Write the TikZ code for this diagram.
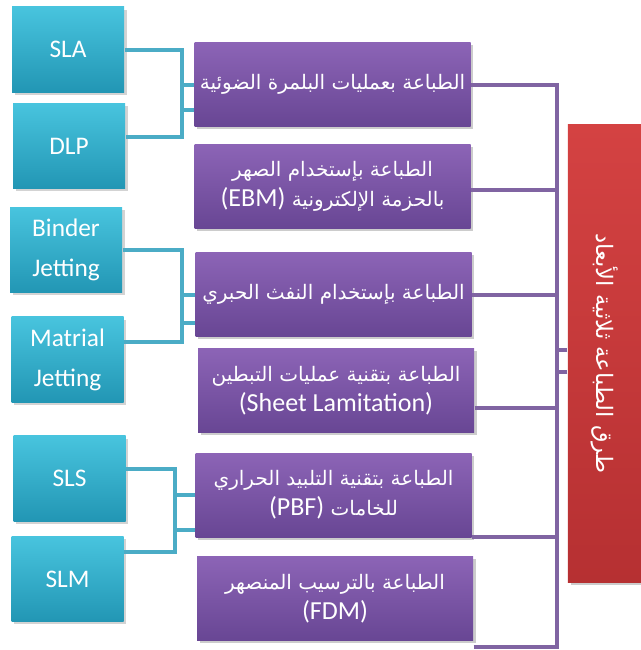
\documentclass[tikz,border=0pt]{standalone}
\usepackage{fontspec}
\setmainfont{Carlito}
\newfontfamily\arabicfont[Script=Arabic]{DejaVu Sans}
\TeXXeTstate=1
\usetikzlibrary{shadows}

\newcommand{\artxt}[1]{{\arabicfont\beginR #1\endR}}
\newcommand{\lattxt}[1]{{\normalfont\fontsize{19.5}{22.5}\selectfont #1}}

\definecolor{tealtop}{RGB}{72,196,222}
\definecolor{tealbot}{RGB}{34,150,180}
\definecolor{purptop}{RGB}{140,100,182}
\definecolor{purpbot}{RGB}{104,70,148}
\definecolor{redtop}{RGB}{212,66,66}
\definecolor{redbot}{RGB}{182,48,50}
\definecolor{tealwire}{RGB}{75,172,198}
\definecolor{purpwire}{RGB}{128,100,162}

\tikzset{every picture/.style={line width=0.75pt},
	techbox/.style={rectangle, draw=none, top color=tealtop, bottom color=tealbot, text=white,
		minimum width=84pt, minimum height=64pt, align=center,
		font=\fontsize{19}{30}\selectfont,
		drop shadow={opacity=0.35, shadow xshift=2pt, shadow yshift=-2pt}},
	methodbox/.style={rectangle, draw=none, top color=purptop, bottom color=purpbot, text=white,
		minimum width=207pt, minimum height=63pt, align=center,
		font=\fontsize{15}{22.5}\selectfont,
		drop shadow={opacity=0.4, shadow xshift=2pt, shadow yshift=-2pt}},
	rootbox/.style={rectangle, draw=none, top color=redtop, bottom color=redbot, text=white,
		minimum width=343pt, minimum height=55pt,
		font=\fontsize{17}{20}\selectfont,
		drop shadow={opacity=0.4, shadow xshift=2pt, shadow yshift=-2pt}},
	tline/.style={draw=tealwire, line width=3pt},
	pline/.style={draw=purpwire, line width=3pt}}

\begin{document}
\begin{tikzpicture}[x=0.75pt,y=0.75pt,yscale=-1,xscale=1]
	\path[use as bounding box] (0,0) rectangle (641,650);

	%Shape: Rectangle [root]
	\node[rootbox, rotate=-90] (root) at (604.5,353.5) {\artxt{طرق الطباعة ثلاثية الأبعاد}};

	%Shape: Rectangle [methods]
	\node[methodbox] (p1) at (332.5,84.5) {\artxt{الطباعة بعمليات البلمرة الضوئية}};
	\node[methodbox] (p2) at (332.5,186.5) {\artxt{الطباعة بإستخدام الصهر}\\ \artxt{بالحزمة الإلكترونية \beginL\lattxt{(EBM)}\endL}};
	\node[methodbox] (p3) at (333.5,294.5) {\artxt{الطباعة بإستخدام النفث الحبري}};
	\node[methodbox] (p4) at (336,390.5) {\artxt{الطباعة بتقنية عمليات التبطين}\\ \lattxt{(Sheet Lamitation)}};
	\node[methodbox] (p5) at (333.5,495) {\artxt{الطباعة بتقنية التلبيد الحراري}\\ \artxt{للخامات \beginL\lattxt{(PBF)}\endL}};
	\node[methodbox] (p6) at (335,598.5) {\artxt{الطباعة بالترسيب المنصهر}\\ \lattxt{(FDM)}};

	%Shape: Rectangle [techniques]
	\node[techbox] (sla) at (68,49.5) {SLA};
	\node[techbox] (dlp) at (69,146) {DLP};
	\node[techbox] (bind) at (66,250) {Binder\\Jetting};
	\node[techbox] (mat) at (67.5,359.5) {Matrial\\Jetting};
	\node[techbox] (sls) at (69.5,478.5) {SLS};
	\node[techbox] (slm) at (67.5,579) {SLM};

	% junction points
	\coordinate (bus) at (557,83);
	\coordinate (t1) at (182,90);
	\coordinate (t2) at (182,295);
	\coordinate (t3) at (175,510);

	%Purple lines
	\foreach \n/\s in {p1/0, p2/2.5, p3/0, p4/12.75, p5/31.5, p6/36.4}
		\draw[pline] ([yshift=\s pt]\n.east) -| (bus);
	\draw[pline] ([yshift=-2.6pt]root.south) -| (bus);
	\draw[pline] ([yshift=13.9pt]root.south) -| (bus);

	%Teal lines
	\draw[tline] (sla.east) -| (t1) |- ([yshift=-6.75pt]dlp.east);
	\draw[tline] (p1.west) -| (t1);
	\draw[tline] ([yshift=19pt]p1.west) -| (t1);

	\draw[tline] (bind.east) -| (t2) |- ([yshift=-13pt]mat.east);
	\draw[tline] (p3.west) -| (t2);
	\draw[tline] ([yshift=21.4pt]p3.west) -| (t2);

	\draw[tline] ([yshift=-7.5pt]sls.east) -| (t3) |- ([yshift=-20pt]slm.east);
	\draw[tline] (p5.west) -| (t3);
	\draw[tline] ([yshift=26pt]p5.west) -| (t3);

\end{tikzpicture}
\end{document}
